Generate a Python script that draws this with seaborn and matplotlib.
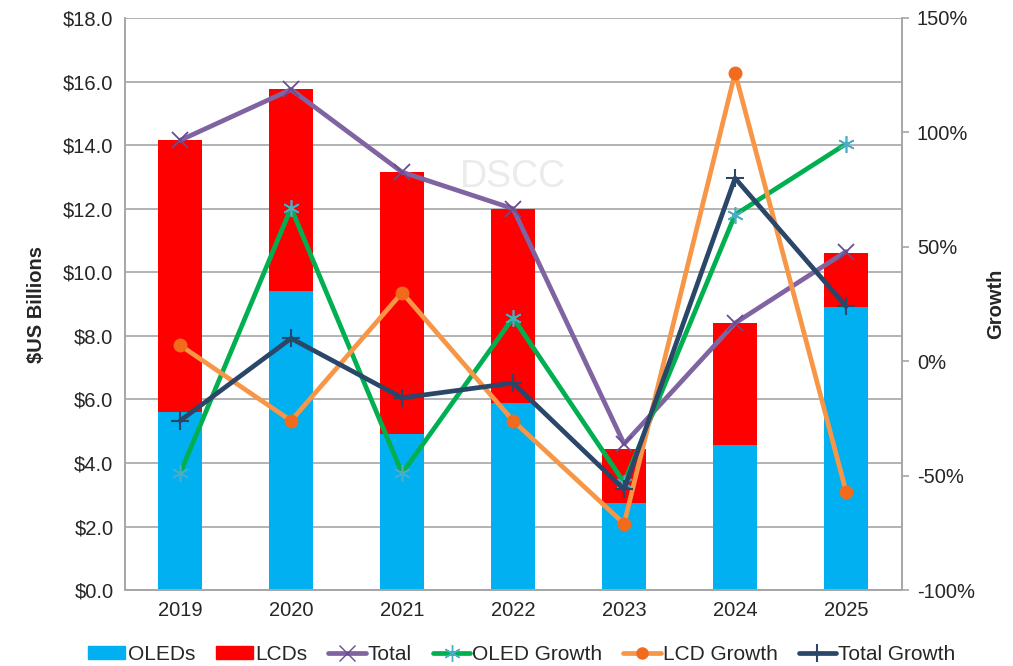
import numpy as np
import pandas as pd
import matplotlib
matplotlib.use('Agg')
from matplotlib import pyplot as plt
from matplotlib.patches import Patch
from matplotlib.lines import Line2D
import seaborn as sns

years = ['2019', '2020', '2021', '2022', '2023', '2024', '2025']
oled = [5.6, 9.4, 4.9, 5.9, 2.75, 4.55, 8.9]
lcd = [8.55, 6.35, 8.25, 6.1, 1.7, 3.85, 1.7]
total = [14.15, 15.75, 13.15, 12.0, 4.6, 8.4, 10.65]
oled_growth = [-49, 67, -49, 19, -53, 64, 95]
lcd_growth = [7, -26, 30, -26, -71, 126, -57]
total_growth = [-26, 10, -16, -9.5, -56, 80, 24]

df = pd.DataFrame({'Year': years, 'OLEDs': oled, 'LCDs': lcd})
df['Stack'] = df['OLEDs'] + df['LCDs']

sns.set_style('white')
plt.rcParams['font.family'] = ['Liberation Sans', 'DejaVu Sans']

fig = plt.figure(figsize=(10.13, 6.66), dpi=100)
ax = fig.add_axes([0.123, 0.114, 0.767, 0.859])

c_oled = '#00B0F0'
c_lcd = '#FF0000'
c_total = '#8064A2'
c_og = '#00B050'
c_lg = '#F79646'
c_tg = '#2A4669'
tfs = 14.5

# stacked bars: full height in red, OLED part in blue on top
sns.barplot(data=df, x='Year', y='Stack', color=c_lcd, width=0.4, saturation=1, ax=ax, zorder=2)
sns.barplot(data=df, x='Year', y='OLEDs', color=c_oled, width=0.4, saturation=1, ax=ax, zorder=2)
for p in ax.patches:
    p.set_edgecolor('none')

pos = np.arange(len(years))
sns.lineplot(x=pos, y=total, ax=ax, color=c_total, lw=3.4, marker='x',
             markersize=11, markeredgewidth=1.3, markeredgecolor='#6A4C93', zorder=4)

ax.set_ylim(0, 18)
ax.set_xlim(-0.5, 6.5)
ax.set_yticks(np.arange(0, 18.1, 2))
ax.set_yticklabels(['$%.1f' % v for v in np.arange(0, 18.1, 2)], fontsize=tfs)
ax.set_xticks(pos)
ax.set_xticklabels(years, fontsize=tfs)
ax.set_xlabel('')
ax.set_ylabel('$US Billions', fontsize=tfs, fontweight='bold', labelpad=12)
ax.grid(axis='y', color='#A6A6A6', lw=1.2, zorder=0)
ax.set_axisbelow(True)
ax.tick_params(axis='both', length=0, pad=8)
ax.spines['top'].set_visible(False)
for s in ['left', 'bottom', 'right']:
    ax.spines[s].set_color('#A6A6A6')
    ax.spines[s].set_linewidth(1.2)

ax.text(3.0, 13.0, 'DSCC', fontsize=27, color='#EBEBEB', ha='center', va='center', zorder=1)

ax2 = ax.twinx()
sns.lineplot(x=pos, y=oled_growth, ax=ax2, color=c_og, lw=3.4, marker=(6, 2, 0),
             markersize=12, markeredgewidth=1.2, markeredgecolor='#4BACC6', zorder=5)
sns.lineplot(x=pos, y=lcd_growth, ax=ax2, color=c_lg, lw=3.4, marker='o',
             markersize=10, markeredgewidth=0, markerfacecolor='#F26B1D', zorder=5)
sns.lineplot(x=pos, y=total_growth, ax=ax2, color=c_tg, lw=3.4, marker='+',
             markersize=13, markeredgewidth=1.5, markeredgecolor=c_tg, zorder=6)
ax2.set_ylim(-100, 150)
ax2.set_yticks(np.arange(-100, 151, 50))
ax2.set_yticklabels(['%d%%' % v for v in np.arange(-100, 151, 50)], fontsize=tfs)
ax2.set_ylabel('Growth', fontsize=tfs, fontweight='bold', labelpad=8)
ax2.tick_params(axis='y', length=5, width=1.2, color='#A6A6A6', pad=6)
ax2.spines['top'].set_visible(False)
for s in ['left', 'bottom', 'right']:
    ax2.spines[s].set_color('#A6A6A6')
    ax2.spines[s].set_linewidth(1.2)
ax2.grid(False)

handles = [
    Patch(color=c_oled, label='OLEDs'),
    Patch(color=c_lcd, label='LCDs'),
    Line2D([], [], color=c_total, lw=3.4, marker='x', markersize=11, markeredgecolor='#6A4C93', label='Total'),
    Line2D([], [], color=c_og, lw=3.4, marker=(6, 2, 0), markersize=12, markeredgecolor='#4BACC6', label='OLED Growth'),
    Line2D([], [], color=c_lg, lw=3.4, marker='o', markersize=9, markeredgewidth=0, markerfacecolor='#F26B1D', label='LCD Growth'),
    Line2D([], [], color=c_tg, lw=3.4, marker='+', markersize=13, markeredgewidth=1.5, label='Total Growth'),
]
fig.legend(handles=handles, loc='lower center', bbox_to_anchor=(0.515, -0.025), ncol=6,
           frameon=False, fontsize=15, handlelength=1.8, handleheight=0.55,
           handletextpad=0.1, columnspacing=1.0)

fig.savefig('out.png', dpi=100)
